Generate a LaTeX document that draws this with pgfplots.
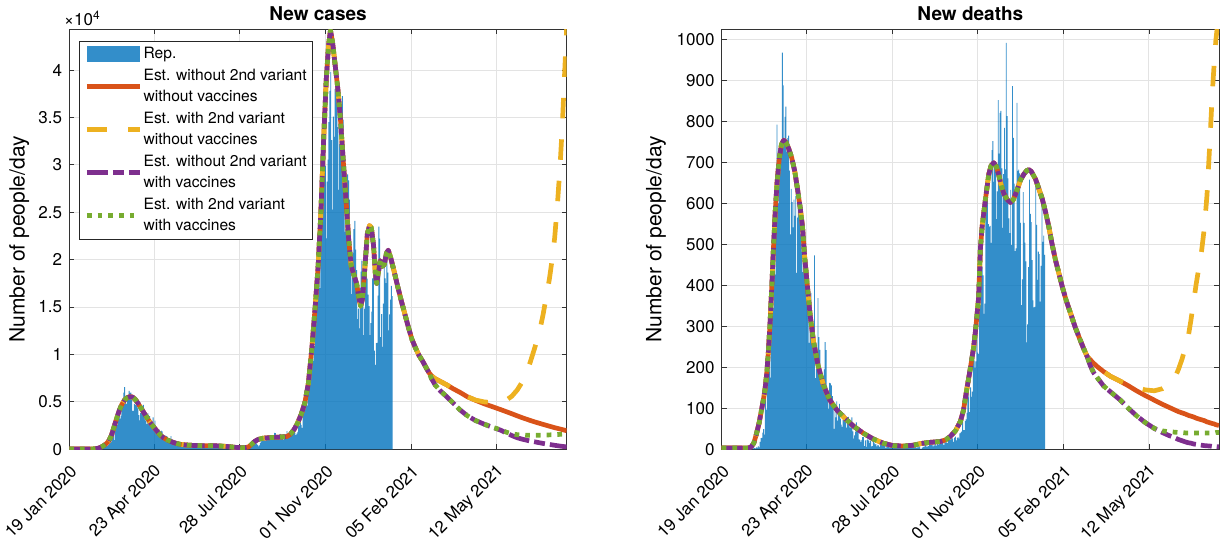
\documentclass[border=0pt]{standalone}
\usepackage{pgfplots}
\usepackage{pgfplotstable}
\usepackage{fontspec}
\setmainfont{TeX Gyre Heros}
\pgfplotsset{compat=1.18}

\definecolor{mlblue}{RGB}{0,114,189}
\definecolor{mlorange}{RGB}{217,83,25}
\definecolor{mlyellow}{RGB}{237,177,32}
\definecolor{mlpurple}{RGB}{126,47,142}
\definecolor{mlgreen}{RGB}{119,172,48}

% reported daily figures: d = days since 19 Jan 2020, c = new cases, m = new deaths
\pgfplotstableread{
d c m
33 14 1
34 62 1
35 53 1
36 97 4
37 93 3
38 78 2
39 250 5
40 238 4
41 240 8
42 566 5
43 342 18
44 466 27
45 587 28
46 769 41
47 778 49
48 1247 36
49 1492 133
50 1797 97
51 977 168
52 2313 196
53 2651 189
54 2547 250
55 3497 175
56 3590 368
57 3233 349
58 3526 345
59 4207 475
60 5322 427
61 5986 627
62 6557 793
63 5560 651
64 4789 601
65 5249 743
66 5210 683
67 6153 712
68 5959 969
69 5974 889
70 5217 756
71 4050 812
72 4053 837
73 4782 727
74 4668 760
75 4585 766
76 4805 681
77 4316 525
78 3599 636
79 3039 604
80 3836 542
81 4204 610
82 3951 570
83 4694 619
84 4092 431
85 3153 566
86 2972 602
87 2667 578
88 3786 525
89 3493 575
90 3491 482
91 3047 433
92 2256 454
93 2729 534
94 3370 437
95 2646 464
96 3021 420
97 2357 415
98 2324 260
99 1739 333
100 2091 382
101 2086 323
102 1872 285
103 1965 269
104 1900 474
105 1389 174
106 1221 195
107 1075 236
108 1444 369
109 1401 274
110 1327 243
111 1083 194
112 802 165
113 744 179
114 1402 172
115 888 195
116 992 262
117 789 242
118 875 153
119 675 145
120 451 99
121 813 162
122 665 161
123 642 156
124 652 130
125 669 119
126 531 50
127 300 92
128 397 78
129 584 117
130 593 70
131 516 87
132 416 111
133 355 75
134 178 60
135 318 55
136 321 71
137 177 88
138 518 85
139 270 72
140 197 53
141 280 65
142 283 79
143 202 71
144 379 53
145 163 56
146 346 78
147 338 44
148 301 26
149 210 34
150 329 43
151 333 66
152 251 47
153 262 49
154 224 24
155 218 23
156 122 18
157 190 23
158 296 30
159 259 30
160 175 8
161 174 22
162 126 6
163 142 23
164 187 30
165 201 21
166 223 15
167 235 21
168 192 7
169 208 8
170 138 30
171 193 15
172 229 12
173 276 13
174 188 7
175 234 11
176 169 9
177 114 6
178 163 17
179 230 20
180 233 13
181 249 9
182 219 12
183 218 11
184 129 3
185 190 15
186 282 9
187 306 10
188 252 5
189 275 5
190 255 5
191 170 11
192 212 11
193 289 6
194 386 9
195 379 3
196 295 5
197 238 5
198 159 6
199 190 10
200 384 6
201 402 3
202 552 12
203 463 4
204 347 4
205 259 6
206 412 3
207 481 9
208 523 6
209 574 3
210 629 3
211 479 4
212 320 7
213 403 5
214 642 7
215 845 9
216 947 5
217 1071 7
218 1210 4
219 953 4
220 878 13
221 1367 5
222 1411 9
223 1460 1
224 1444 1
225 1365 4
226 996 6
227 978 6
228 1326 10
229 1397 10
230 1733 6
231 1695 7
232 1297 8
233 1108 14
234 1370 10
235 1434 10
236 1597 10
237 1616 7
238 1501 14
239 1458 9
240 1008 14
241 1229 9
242 1452 20
243 1585 10
244 1907 24
245 1638 14
246 1587 13
247 1350 15
248 1392 20
249 1640 10
250 1786 24
251 1912 17
252 1869 17
253 1766 15
254 1494 24
255 1648 23
256 1851 23
257 2548 24
258 2499 27
259 2844 26
260 2578 18
261 2257 28
262 3678 31
263 4458 22
264 5372 28
265 5724 29
266 5456 26
267 4619 39
268 5901 41
269 7332 43
270 8804 83
271 10010 47
272 10925 47
273 11705 69
274 9338 73
275 10874 89
276 15199 127
277 16079 136
278 19143 91
279 19644 151
280 21273 128
281 17012 141
282 21994 221
283 24991 217
284 26831 199
285 31084 215
286 31758 297
287 29907 236
288 22253 233
289 28244 353
290 30550 352
291 34505 445
292 37809 446
293 39811 425
294 32616 331
295 25271 356
296 35098 580
297 32961 623
298 37978 636
299 40902 550
300 37255 544
301 33979 546
302 27354 504
303 32191 731
304 34283 753
305 36176 653
306 37242 699
307 34767 692
308 28337 562
309 22930 630
310 23232 853
311 25853 722
312 29003 822
313 28352 827
314 26323 686
315 20648 541
316 16377 672
317 19350 785
318 20709 684
319 23225 993
320 24099 814
321 21052 662
322 18887 564
323 13720 528
324 14842 634
325 12756 499
326 16999 887
327 18727 761
328 19903 649
329 17938 484
330 12030 491
331 14844 846
332 17572 680
333 18236 683
334 17992 674
335 16308 553
336 15104 352
337 12030 415
338 13318 628
339 14522 553
340 18040 505
341 19037 459
342 10407 261
343 8913 305
344 11210 445
345 11224 659
346 16202 575
347 23477 555
348 22211 462
349 11831 364
350 14245 347
351 10800 348
352 15378 649
353 20331 548
354 18020 414
355 17533 483
356 19978 477
357 18627 361
358 12532 448
359 14242 616
360 15774 507
361 17246 522
362 16146 475
}\daily

% model estimates of new cases
% A: without 2nd variant, without vaccines   B: with 2nd variant, without vaccines
% C: without 2nd variant, with vaccines      D: with 2nd variant, with vaccines
\pgfplotstableread{
d A B C D
0 30 30 30 30
10 30 30 30 30
20 35 35 35 35
28 50 50 50 50
32 100 100 100 100
35 200 200 200 200
38 350 350 350 350
41 560 560 560 560
44 850 850 850 850
47 1400 1400 1400 1400
50 2300 2300 2300 2300
53 3250 3250 3250 3250
56 4100 4100 4100 4100
59 4750 4750 4750 4750
62 5200 5200 5200 5200
65 5450 5450 5450 5450
68 5550 5550 5550 5550
71 5500 5500 5500 5500
74 5250 5250 5250 5250
77 4850 4850 4850 4850
80 4400 4400 4400 4400
83 3950 3950 3950 3950
86 3500 3500 3500 3500
89 3050 3050 3050 3050
92 2650 2650 2650 2650
95 2300 2300 2300 2300
98 1950 1950 1950 1950
102 1480 1480 1480 1480
106 1200 1200 1200 1200
110 980 980 980 980
115 780 780 780 780
120 620 620 620 620
125 520 520 520 520
130 460 460 460 460
140 400 400 400 400
150 380 380 380 380
160 380 380 380 380
170 350 350 350 350
180 270 270 270 270
184 220 220 220 220
188 190 190 190 190
193 175 175 175 175
197 170 170 170 170
201 260 260 260 260
204 500 500 500 500
208 850 850 850 850
212 1050 1050 1050 1050
217 1170 1170 1170 1170
225 1230 1230 1230 1230
235 1280 1280 1280 1280
244 1350 1350 1350 1350
248 1600 1600 1600 1600
252 2100 2100 2100 2100
256 2800 2800 2800 2800
260 3700 3700 3700 3700
264 4900 4900 4900 4900
268 7000 7000 7000 7000
272 10800 10800 10800 10800
276 15500 15500 15500 15500
279 19500 19500 19500 19500
282 25000 25000 25000 25000
285 32500 32500 32500 32500
288 39000 39000 39000 39000
290.5 42500 42500 42500 42500
292.7 44200 44200 44200 44200
295 43000 43000 43000 43000
298 40500 40500 40500 40500
301 38000 38000 38000 38000
304 34700 34700 34700 34700
307 30500 30500 30500 30500
310 26500 26500 26500 26500
313 22300 22300 22300 22300
316 19300 19300 19300 19300
319 18400 18400 18400 18400
322 17500 17500 17500 17500
324.5 16000 16000 16000 16000
326.5 15100 15100 15100 15100
328.5 15800 15800 15800 15800
331 18800 18800 18800 18800
334 22700 22700 22700 22700
336.5 23600 23600 23600 23600
338.5 23400 23400 23400 23400
341 21500 21500 21500 21500
343 18600 18600 18600 18600
344.5 17500 17500 17500 17500
346.5 18700 18700 18700 18700
348.5 19900 19900 19900 19900
351 19300 19300 19300 19300
353 19500 19500 19500 19500
355.5 20700 20700 20700 20700
357.5 21000 21000 21000 21000
360 20300 20300 20300 20300
364 18800 18800 18800 18800
368 17200 17200 17200 17200
372 15700 15700 15700 15700
376 14300 14300 14300 14300
380 12900 12900 12900 12900
384 11600 11600 11600 11600
388 10700 10700 10700 10700
392 9900 9900 9900 9900
396 9300 9300 9300 9300
400 8600 8600 8600 8600
403 8100 8100 8100 8100
406 7750 7750 7450 7450
410 7450 7450 6800 6800
416 7150 7150 6150 6150
423 6800 6800 5550 5550
430 6400 6400 4900 4900
438 6000 6000 4150 4150
446 5550 5550 3550 3550
455 5180 5200 3050 3050
465 4800 5000 2650 2650
475 4470 4920 2300 2300
484 4170 5000 2000 2040
490 3960 5200 1720 1800
496 3750 5600 1450 1640
502 3530 6250 1220 1540
508 3320 7150 1060 1490
513 3160 8150 950 1480
517 3030 9300 860 1480
522 2880 10800 780 1480
527 2740 12400 690 1490
531 2630 14200 620 1500
535 2520 16300 560 1510
538 2440 17900 510 1520
541 2360 19900 470 1530
544 2280 22300 420 1545
547 2210 25700 380 1560
550 2140 29800 340 1575
552.5 2080 34000 310 1590
555 2020 39300 280 1600
557.5 1960 44500 250 1610
}\casest

% model estimates of new deaths, same four scenarios
\pgfplotstableread{
d A B C D
0 3 3 3 3
20 3 3 3 3
30 3 3 3 3
33 6 6 6 6
36 15 15 15 15
39 38 38 38 38
42 65 65 65 65
44.5 95 95 95 95
46.6 120 120 120 120
48.5 145 145 145 145
50.5 185 185 185 185
52.2 235 235 235 235
54 300 300 300 300
56 390 390 390 390
58 490 490 490 490
60 580 580 580 580
62 650 650 650 650
64.5 710 710 710 710
67 745 745 745 745
69.5 755 755 755 755
72 750 750 750 750
75 735 735 735 735
78.5 712 712 712 712
82 678 678 678 678
85 635 635 635 635
88 590 590 590 590
90.5 545 545 545 545
93 470 470 470 470
96 400 400 400 400
99 330 330 330 330
103 262 262 262 262
108 205 205 205 205
114 157 157 157 157
121 121 121 121 121
129 96 96 96 96
138 76 76 76 76
148 56 56 56 56
159 39 39 39 39
170 25 25 25 25
181 15 15 15 15
192 9 9 9 9
204 8 8 8 8
215 10 10 10 10
223 14 14 14 14
234 17 17 17 17
245 19 19 19 19
251 23 23 23 23
256 31 31 31 31
262 45 45 45 45
267.6 68 68 68 68
271 95 95 95 95
275 150 150 150 150
278.5 195 195 195 195
282.5 250 250 250 250
285 300 300 300 300
288 370 370 370 370
290 490 490 490 490
292 545 545 545 545
295.6 610 610 610 610
299.4 672 672 672 672
302 693 693 693 693
305 700 700 700 700
308 690 690 690 690
310.6 670 670 670 670
313 648 648 648 648
316.2 625 625 625 625
320 610 610 610 610
323.7 603 603 603 603
327 610 610 610 610
331.2 634 634 634 634
335 658 658 658 658
338.7 672 672 672 672
342 681 681 681 681
344.3 683 683 683 683
347 679 679 679 679
351.8 660 660 660 660
355 640 640 640 640
359.3 612 612 612 612
363 580 580 580 580
366.7 544 544 544 544
370 505 505 505 505
374.2 462 462 462 462
378 430 430 430 430
381.8 397 397 397 397
386 365 365 365 365
391.1 332 332 332 332
396 300 300 300 300
400.4 275 275 275 275
405 250 250 250 250
409.8 226 226 226 226
413 219 219 205 205
417 210 210 187 187
421 202 202 175 175
428 190 190 155 155
436 178 178 140 140
447 166 166 120 120
456 155 158 100 100
465 143 151 82 82
475 131 145 65 65
485 120 143 51 51
494 110 148 41 45
501 103 157 34 43
507 97 170 29 42
512 92 195 24 41
516 89 220 21 41
520 86 250 18 40
523 83 275 16 40
526 81 315 15 40
529 79 360 13 40
532 76 405 12 40
535 74 445 11 40
538 72 485 10 40
541 70 540 9 40
544 67 620 8.5 40
547 65 740 8 40
550 63 870 7 40
552 62 940 7 40
554 60 1000 6.5 41
556 59 1040 6 41
557.5 58 1070 6 41
}\deathst

\newcommand{\oneline}[1]{\begin{tabular}{@{}l@{}}#1\end{tabular}}
\newcommand{\twoline}[2]{\begin{tabular}{@{}l@{}}#1\\#2\end{tabular}}

\pgfplotsset{
  legend image code/.code={\draw[#1] (0pt,0pt) -- (53.3pt,0pt);},
  panel/.style={
    scale only axis, width=497.4pt, height=420pt, anchor=south west,
    xmin=0, xmax=557.5, ymin=0,
    xtick={0,95,191,287,383,479},
    xticklabels={19 Jan 2020,23 Apr 2020,28 Jul 2020,01 Nov 2020,05 Feb 2021,12 May 2021},
    tick align=inside, xtick pos=both, ytick pos=both, major tick length=5pt,
    grid=major, major grid style={draw=black!11, line width=1pt},
    axis line style={draw=black!80, line width=0.9pt},
    tick style={draw=black!80, line width=0.9pt},
    tick label style={font=\fontsize{17}{20}\selectfont},
    /pgf/number format/assume math mode=true,
    /pgf/number format/1000 sep={},
    xticklabel style={xshift=4.5pt, yshift=-19pt, rotate=45, anchor=east, inner sep=0pt},
    yticklabel style={anchor=east, inner sep=0pt, xshift=-7pt},
    every axis title/.style={at={(0.5,1)}, anchor=base, yshift=8.6pt, font=\fontsize{19}{22}\selectfont\bfseries},
    ylabel={Number of people/day},
  },
  est/.style={line width=4.7pt, line cap=butt, line join=round},
  estA/.style={est, mlorange},
  estB/.style={est, mlyellow, dash pattern=on 20.5pt off 21pt},
  estC/.style={est, mlpurple, dash pattern=on 21pt off 5pt on 11pt off 5pt},
  estD/.style={est, mlgreen, dash pattern=on 4.7pt off 6pt},
  reported/.style={ybar, bar width=1, bar shift=0pt, fill=mlblue, fill opacity=0.8, draw=none},
}

\begin{document}
\begin{tikzpicture}
\useasboundingbox (0,0) rectangle (1228pt,543pt);

% ---- new cases ----
\begin{axis}[panel,
  at={(69.3pt,93.7pt)},
  ymax=44300,
  ytick={0,5000,10000,15000,20000,25000,30000,35000,40000},
  scaled y ticks=base 10:-4,
  ytick scale label code/.code={\fontsize{17}{20}\selectfont ×10\textsuperscript{#1}},
  every y tick scale label/.style={at={(rel axis cs:0,1)}, anchor=base west, xshift=1.7pt, yshift=3.3pt, inner sep=0pt},
  yticklabel style={/pgf/number format/fixed},
  every axis y label/.style={at={(rel axis cs:0,0.5)}, xshift=-50pt, rotate=90, anchor=center, font=\fontsize{21}{24}\selectfont},
  title={New cases},
  legend cell align=left,
  legend style={at={(0.0189,0.9729)}, anchor=north west, draw=black!85, line width=0.8pt, fill=white,
    inner xsep=5.5pt, inner ysep=2.5pt, row sep=0pt, column sep=1pt,
    font=\fontsize{15.6}{21.5}\selectfont, nodes={inner sep=0pt, text depth=, text height=}},
]
\addplot[reported, legend image code/.code={\fill[mlblue] (0pt,-7.85pt) rectangle (53.3pt,7.85pt);}]
  table[x=d, y=c] {\daily};
\addlegendentry{\oneline{Rep.}}
\addplot[estA] table[x=d, y=A] {\casest};
\addlegendentry{\twoline{Est. without 2nd variant}{without vaccines}}
\addplot[estB] table[x=d, y=B] {\casest};
\addlegendentry{\twoline{Est. with 2nd variant}{without vaccines}}
\addplot[estC] table[x=d, y=C] {\casest};
\addlegendentry{\twoline{Est. without 2nd variant}{with vaccines}}
\addplot[estD] table[x=d, y=D] {\casest};
\addlegendentry{\twoline{Est. with 2nd variant}{with vaccines}}
\end{axis}

% ---- new deaths ----
\begin{axis}[panel,
  at={(721.7pt,93.7pt)},
  width=497.3pt,
  ymax=1026,
  ytick={0,100,200,300,400,500,600,700,800,900,1000},
  scaled y ticks=false,
  every axis y label/.style={at={(rel axis cs:0,0.5)}, xshift=-65.7pt, rotate=90, anchor=center, font=\fontsize{21}{24}\selectfont},
  title={New deaths},
]
\addplot[reported] table[x=d, y=m] {\daily};
\addplot[estA] table[x=d, y=A] {\deathst};
\addplot[estB] table[x=d, y=B] {\deathst};
\addplot[estC] table[x=d, y=C] {\deathst};
\addplot[estD] table[x=d, y=D] {\deathst};
\end{axis}
\end{tikzpicture}
\end{document}
